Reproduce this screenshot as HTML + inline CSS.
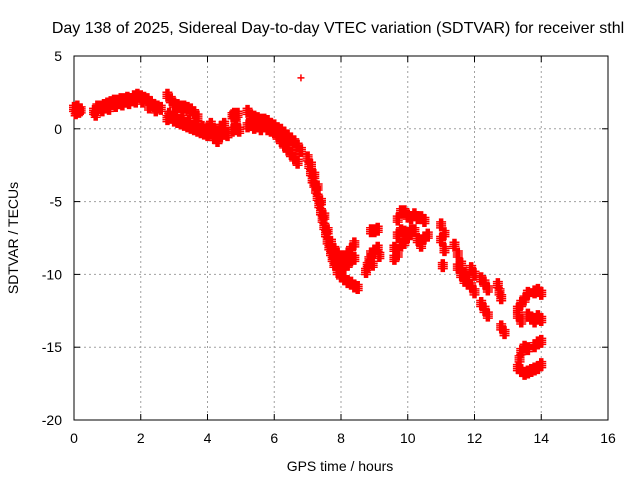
<!DOCTYPE html>
<html><head><meta charset="utf-8"><style>
body{margin:0;background:#fff}
svg{display:block;font-family:"Liberation Sans",sans-serif}
</style></head><body>
<svg id="chart" width="640" height="480" viewBox="0 0 640 480">
<text x="338" y="33" font-size="16" text-anchor="middle">Day 138 of 2025, Sidereal Day-to-day VTEC variation (SDTVAR) for receiver sthl</text>
<g id="grid"></g>
<g id="axes"></g>
<g id="marks"></g>
<text x="340" y="471" font-size="14" text-anchor="middle">GPS time / hours</text>
<text transform="translate(18,238) rotate(-90)" font-size="14" text-anchor="middle">SDTVAR / TECUs</text>
</svg>
<script>
const xTicks=[0,2,4,6,8,10,12,14,16];
const yTicks=[5,0,-5,-10,-15,-20];
const obsTime=[0,0.05,0.1,0.15,0.2,
0.6,0.7,0.8,0.9,1.0,1.1,1.2,1.3,1.4,1.5,1.6,1.7,1.8,1.9,2.0,2.1,2.2,2.3,2.4,2.5,2.6,
0.65,0.85,1.05,1.25,1.45,1.65,1.85,2.05,2.25,2.45,
2.8,2.9,3.0,3.1,3.2,3.3,3.4,3.5,3.6,3.7,
2.8,2.9,3.0,3.1,3.2,3.3,3.4,3.5,3.6,3.7,3.8,3.9,4.0,2.85,3.05,3.25,3.45,3.65,3.85,
4.0,4.1,4.2,4.3,4.4,4.5,4.6,4.1,4.2,4.3,4.4,4.5,
4.75,4.8,4.85,4.75,4.85,4.95,4.9,
5.2,5.3,5.4,5.5,5.6,5.7,5.8,5.9,6.0,6.1,6.2,6.3,6.4,6.5,6.6,6.7,6.8,
5.2,5.3,5.4,5.5,5.6,5.7,5.8,5.9,6.0,6.1,6.2,6.3,6.4,6.5,6.6,6.7,
6.8,
7.0,7.05,7.1,7.15,7.2,7.25,7.3,7.35,7.4,7.45,7.5,7.55,7.6,7.65,7.7,7.75,7.8,7.9,8.0,8.1,8.2,8.3,8.4,8.5,
7.1,7.2,7.3,7.4,7.5,7.6,7.7,7.8,7.9,8.0,8.1,8.2,8.3,8.4,
7.9,8.0,8.1,8.2,8.3,8.4,
8.75,8.8,8.85,8.9,9.0,9.1,9.15,8.95,8.9,9.0,9.1,
9.7,9.8,9.9,10.0,10.1,10.2,10.3,10.4,10.5,
9.6,9.7,9.8,9.9,10.0,10.1,10.2,10.3,10.4,10.5,10.6,
9.6,9.7,9.8,9.9,10.0,
11.0,11.1,11.0,11.1,11.05,
11.4,11.5,11.6,11.7,11.8,11.9,12.0,11.5,11.6,11.7,11.8,11.9,12.0,
12.2,12.3,12.4,12.2,12.3,12.4,12.7,12.75,12.8,12.8,12.9,
13.3,13.4,13.5,13.6,13.8,13.9,14.0,
13.3,13.4,13.6,13.7,13.8,13.9,14.0,
13.35,13.4,13.5,13.6,13.8,13.9,14.0,
13.3,13.4,13.5,13.6,13.7,13.8,13.9,14.0];
const obsSdtvar=[1.4,1.1,1.5,1.2,1.3,
1.2,1.5,1.5,1.6,1.7,1.8,1.9,1.9,2.0,2.0,2.1,2.0,2.2,2.3,2.2,2.1,2.0,1.8,1.6,1.5,1.4,
1.0,1.3,1.4,1.6,1.7,1.8,1.9,1.9,1.5,1.3,
2.3,2.0,1.7,1.6,1.5,1.5,1.4,1.3,1.1,0.8,
0.7,0.8,0.6,0.5,0.4,0.3,0.2,0.1,0.0,-0.1,-0.2,-0.3,-0.4,1.0,0.9,0.7,0.5,0.3,0.1,
0.0,-0.3,-0.6,-0.2,0.1,-0.2,-0.4,0.3,-0.1,-0.8,-0.5,0.3,
0.9,1.0,0.6,-0.1,0.0,-0.1,1.0,
1.2,0.9,0.8,0.7,0.6,0.6,0.5,0.3,0.2,0.0,-0.1,-0.3,-0.5,-0.7,-0.9,-1.2,-1.5,
0.2,0.4,0.1,0.2,0.0,0.2,0.0,-0.1,-0.2,-0.5,-0.8,-1.1,-1.4,-1.7,-2.0,-2.3,
3.5,
-2.0,-2.5,-3.0,-3.5,-3.8,-4.2,-4.7,-5.2,-5.7,-6.2,-6.7,-7.2,-7.7,-8.1,-8.5,-8.9,-9.3,-9.8,-10.1,-10.3,-10.5,-10.6,-10.8,-10.9,
-2.5,-3.2,-4.0,-5.0,-6.0,-7.0,-7.8,-8.3,-8.6,-8.8,-8.8,-8.6,-8.3,-7.9,
-9.2,-9.4,-9.5,-9.3,-9.0,-8.9,
-9.8,-9.4,-9.0,-8.6,-8.4,-8.2,-8.7,-9.3,-7.0,-7.0,-6.9,
-6.2,-5.7,-5.7,-6.0,-6.1,-5.9,-6.1,-6.1,-6.3,
-8.2,-7.3,-7.0,-7.1,-7.3,-7.0,-7.0,-7.6,-8.0,-7.5,-7.3,
-8.9,-8.6,-8.0,-7.8,-7.4,
-6.6,-7.2,-7.6,-8.3,-9.4,
-8.0,-8.6,-9.3,-9.9,-10.3,-10.8,-11.2,-9.5,-10.0,-10.4,-10.6,-9.6,-10.0,
-10.3,-10.6,-11.0,-12.0,-12.4,-12.8,-10.7,-11.2,-11.6,-13.6,-14.0,
-12.4,-12.0,-11.7,-11.3,-11.2,-11.1,-11.3,
-12.8,-13.2,-12.8,-13.0,-13.2,-12.9,-13.1,
-15.8,-15.3,-15.0,-15.1,-14.9,-14.7,-14.6,
-16.4,-16.6,-16.8,-16.7,-16.6,-16.5,-16.4,-16.2];

const X0=74,X1=608,Y0=56,Y1=420,xMin=0,xMax=16,yMin=-20,yMax=5;
const xs=t=>X0+(t-xMin)/(xMax-xMin)*(X1-X0);
const ys=v=>Y1-(v-yMin)/(yMax-yMin)*(Y1-Y0);
const NS='http://www.w3.org/2000/svg';
function mk(tag,attrs,parent){const e=document.createElementNS(NS,tag);for(const k in attrs)e.setAttribute(k,attrs[k]);parent.appendChild(e);return e;}
const grid=document.getElementById('grid'),axes=document.getElementById('axes'),marks=document.getElementById('marks');
xTicks.forEach(t=>{
  const x=xs(t);
  if(t>xMin&&t<xMax){const g=mk('line',{x1:x,y1:Y0,x2:x,y2:Y1,stroke:'#a0a0a0','stroke-dasharray':'2,3'},grid);
  
  }
  mk('line',{x1:x,y1:Y1,x2:x,y2:Y1-6,stroke:'#000'},axes);
  mk('line',{x1:x,y1:Y0,x2:x,y2:Y0+6,stroke:'#000'},axes);
  const lb=mk('text',{x:x,y:Y1+23,'font-size':14,'text-anchor':'middle'},axes);
  lb.textContent=t;
  
  
});
yTicks.forEach(v=>{
  const y=ys(v);
  if(v>yMin&&v<yMax){const g=mk('line',{x1:X0,y1:y,x2:X1,y2:y,stroke:'#a0a0a0','stroke-dasharray':'2,3'},grid);
  
  }
  mk('line',{x1:X0,y1:y,x2:X0+6,y2:y,stroke:'#000'},axes);
  mk('line',{x1:X1,y1:y,x2:X1-6,y2:y,stroke:'#000'},axes);
  const lb=mk('text',{x:X0-12,y:y+5,'font-size':14,'text-anchor':'end'},axes);
  lb.textContent=v;
  
  
});
const fr=mk('rect',{x:X0,y:Y0,width:X1-X0,height:Y1-Y0,fill:'none',stroke:'#000'},axes);


let d='';
const single=new Set([obsTime.indexOf(6.8, 100)]);
obsTime.forEach((t,i)=>{const x=xs(t),y=ys(obsSdtvar[i]);
  if(obsSdtvar[i]>3){d+=`M${x-3.5},${y}h7M${x},${y-3.5}v7`;return;}
  for(const dx of [-1.5,0,1.5])for(const dy of [-3,-1,1,3]){
    d+=`M${x+dx-3.5},${y+dy}h7M${x+dx},${y+dy-3.5}v7`;
  }
});
const p=mk('path',{d:d,stroke:'#ff0000','stroke-width':1.5,fill:'none'},marks);


</script>
</body></html>
